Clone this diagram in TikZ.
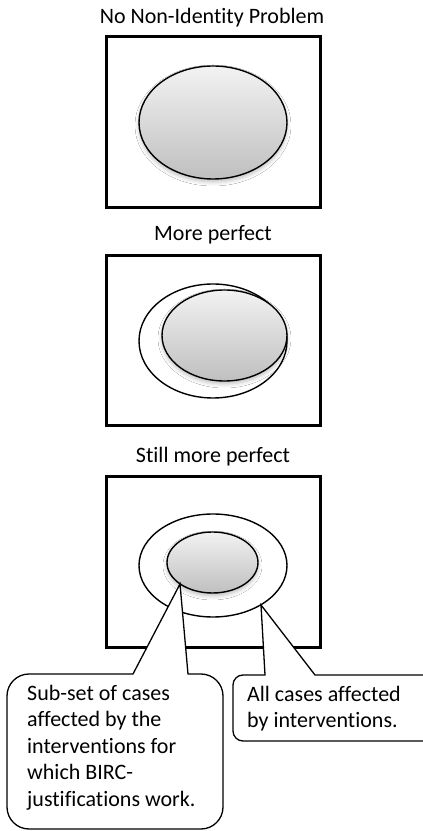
\documentclass[tikz,border=0pt]{standalone}
\usepackage{fontspec}
\setmainfont[Ligatures={NoCommon,NoRare,NoContextual}]{Carlito}
\usetikzlibrary{shadows.blur}
\begin{document}
\begin{tikzpicture}[x=1pt,y=1pt,
  txt/.style={font=\fontsize{22}{26.5}\selectfont, inner sep=0pt},
  frame/.style={draw=black, line width=3pt, fill=white},
  ring/.style={draw=black, line width=1.4pt},
  blob/.style={draw=black, line width=1.4pt, top color=gray!10, bottom color=gray!50,
     blur shadow={shadow xshift=0pt, shadow yshift=-3pt, shadow blur radius=4pt, shadow opacity=25}},
  callout/.style={draw=black, line width=1.3pt, fill=white}]
\clip (0,0) rectangle (423,831);
\fill[white] (0,0) rectangle (423,831);
% panel 1
\node[txt] (t1) at (212,813) {No Non-Identity Problem};
\draw[frame] (106,623) rectangle (320,794);
\draw[blob] (213,708.5) ellipse [x radius=74, y radius=56.5];
% panel 2
\node[txt] (t2) at (213,596) {More perfect};
\draw[frame] (106,405) rectangle (320,575);
\draw[ring] (213,490) ellipse [x radius=74, y radius=57];
\draw[blob] (224.5,495.5) ellipse [x radius=62.5, y radius=45.5];
% panel 3
\node[txt] (t3) at (213,374) {Still more perfect};
\draw[frame] (106,183) rectangle (320,354);
\draw[ring] (213,265.5) ellipse [x radius=74, y radius=51.5];
\draw[blob] (212.5,268.5) ellipse [x radius=45.5, y radius=30.5];
\coordinate (tipA) at (180,247);
\coordinate (tipB) at (261,226);
% callouts
\draw[callout] (7,135) arc[start angle=180, end angle=90, radius=22] -- (133,157) -- (tipA) -- (188,157)
  -- (201,157) arc[start angle=90, end angle=0, radius=22] -- (223,24)
  arc[start angle=0, end angle=-90, radius=22] -- (29,2)
  arc[start angle=270, end angle=180, radius=22] -- cycle;
\draw[callout] (233,146) arc[start angle=180, end angle=90, radius=10] -- (265,156) -- (tipB) -- (315,156)
  -- (440,156) -- (440,90) -- (243,90) arc[start angle=270, end angle=180, radius=10] -- cycle;
\node[txt, anchor=west, align=left] (la) at (27,83.5) {Sub-set of cases\\affected by the\\interventions for\\which BIRC-\\justifications work.};
\node[txt, anchor=west, align=left] (lb) at (247,122.5) {All cases affected\\by interventions.};
\end{tikzpicture}
\end{document}
